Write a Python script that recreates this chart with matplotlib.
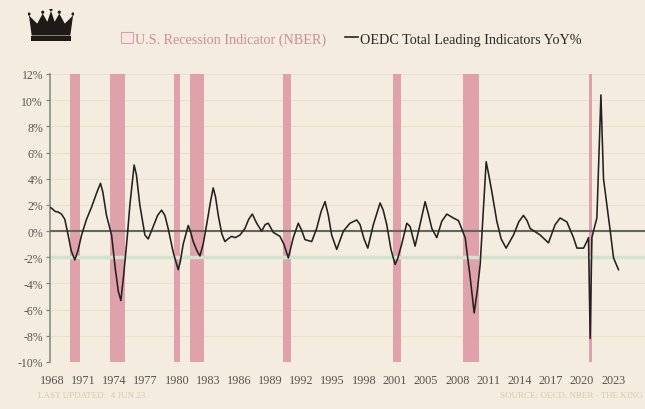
import matplotlib
matplotlib.use("Agg")
import matplotlib.pyplot as plt
from matplotlib.patches import Patch, Polygon, Circle
from matplotlib.lines import Line2D

# ---------------- data ----------------
years = [1968.0, 1968.15, 1968.5, 1968.8, 1969.11, 1969.43, 1969.75, 1970.05, 1970.4, 1970.7,
         1971.05, 1971.53, 1972.0, 1972.5, 1972.88, 1973.1, 1973.46, 1973.95, 1974.3, 1974.6,
         1974.85, 1975.1, 1975.46, 1975.72, 1976.13, 1976.35, 1976.68, 1977.17, 1977.49, 1977.9,
         1978.4, 1978.78, 1979.1, 1979.42, 1979.9, 1980.39, 1980.6, 1980.87, 1981.36, 1981.6,
         1981.84, 1982.2, 1982.49, 1982.8, 1983.14, 1983.5, 1983.77, 1984.0, 1984.26, 1984.6,
         1984.9, 1985.2, 1985.55, 1985.9, 1986.36, 1986.84, 1987.2, 1987.55, 1987.97, 1988.45,
         1988.8, 1989.09, 1989.58, 1990.22, 1990.6, 1991.03, 1991.51, 1991.99, 1992.3, 1992.64,
         1993.29, 1993.77, 1994.2, 1994.58, 1994.9, 1995.22, 1995.71, 1996.35, 1996.99, 1997.64,
         1997.96, 1998.35, 1998.71, 1999.25, 1999.9, 2000.2, 2000.54, 2000.95, 2001.35, 2001.6,
         2001.99, 2002.48, 2002.8, 2003.28, 2003.76, 2004.25, 2004.6, 2004.9, 2005.38, 2005.86,
         2006.35, 2006.98, 2007.47, 2007.63, 2008.12, 2008.6, 2008.99, 2009.3, 2009.57, 2009.9,
         2010.15, 2010.4, 2010.7, 2011.18, 2011.6, 2012.08, 2012.79, 2013.3, 2013.75, 2014.1,
         2014.4, 2015.37, 2016.17, 2016.82, 2017.3, 2017.95, 2018.59, 2018.92, 2019.56, 2019.88,
         2020.04, 2020.2, 2020.37, 2020.52, 2020.85, 2021.24, 2021.49, 2022.14, 2022.46, 2022.94]
cli_yoy = [1.8, 1.75, 1.5, 1.45, 1.3, 0.9, -0.3, -1.5, -2.2, -1.5,
           -0.3, 0.9, 1.8, 2.9, 3.65, 3.0, 1.2, -0.3, -2.8, -4.6,
           -5.3, -3.5, -0.5, 2.0, 5.05, 4.3, 2.0, -0.3, -0.6, 0.2,
           1.2, 1.6, 1.2, 0.2, -1.6, -2.95, -2.3, -1.0, 0.43, -0.1,
           -0.8, -1.5, -1.9, -1.0, 0.5, 2.2, 3.3, 2.6, 1.2, -0.2,
           -0.8, -0.6, -0.4, -0.5, -0.3, 0.2, 0.9, 1.3, 0.6, 0.0,
           0.5, 0.6, -0.1, -0.4, -1.0, -2.05, -0.5, 0.6, 0.1, -0.65,
           -0.8, 0.2, 1.5, 2.25, 1.2, -0.3, -1.4, 0.0, 0.6, 0.85,
           0.5, -0.6, -1.3, 0.5, 2.15, 1.6, 0.5, -1.4, -2.55, -2.1,
           -1.0, 0.6, 0.35, -1.15, 0.5, 2.25, 1.2, 0.2, -0.5, 0.75,
           1.3, 1.0, 0.8, 0.5, -0.5, -3.5, -6.25, -4.5, -2.55, 2.0,
           5.3, 4.3, 3.0, 0.75, -0.6, -1.3, -0.3, 0.7, 1.2, 0.8,
           0.2, -0.3, -0.9, 0.5, 1.0, 0.7, -0.5, -1.3, -1.3, -0.8,
           -0.5, -8.2, -0.5, 0.0, 1.0, 10.4, 4.0, 0.0, -2.05, -2.95]

rec_start = [1969.917, 1973.833, 1980.0, 1981.5, 1990.5, 2001.167, 2007.917, 2020.083]
rec_end = [1970.917, 1975.25, 1980.583, 1982.917, 1991.25, 2001.917, 2009.5, 2020.333]

x_tick_labels = ["1968", "1971", "1974", "1977", "1980", "1983", "1986", "1989", "1992",
                 "1995", "1998", "2001", "2005", "2008", "2011", "2014", "2017", "2020", "2023"]
y_ticks = [-10, -8, -6, -4, -2, 0, 2, 4, 6, 8, 10, 12]

BG = "#f4ecde"
REC = "#e0a2aa"
SERIF = ["Liberation Serif", "DejaVu Serif"]

fig = plt.figure(figsize=(6.45, 4.10), dpi=100, facecolor=BG)
ax = fig.add_axes([50 / 645, 1 - 363 / 410, 1 - 50 / 645, (363 - 75) / 410])
ax.set_facecolor(BG)

ax.set_xlim(1968.0, 2025.5)
ax.set_ylim(-10, 12)

for yv in y_ticks:
    ax.axhline(yv, color="#ebe0cc", lw=0.8, zorder=0)

for s, e in zip(rec_start, rec_end):
    ax.axvspan(s, e, color=REC, lw=0, zorder=1)

ax.axhline(-2, color="#cfe3cf", lw=2.5, zorder=2)
ax.axhline(0, color="#66665a", lw=1.5, zorder=3)
ax.plot(years, cli_yoy, color="#222222", lw=1.15, zorder=4)

for sp in ["top", "right", "bottom"]:
    ax.spines[sp].set_visible(False)
ax.spines["left"].set_color("#85857b")
ax.spines["left"].set_linewidth(1.1)

ax.set_yticks(y_ticks)
ax.set_yticklabels([f"{v}%" for v in y_ticks], fontfamily=SERIF, fontsize=8.5, color="#555550")
ax.tick_params(axis="y", length=3, width=0.9, color="#85857b", pad=2)

xt = [1968.2 + 3.012 * i for i in range(len(x_tick_labels))]
ax.set_xticks(xt)
ax.set_xticklabels(x_tick_labels, fontfamily=SERIF, fontsize=8.8, color="#555550")
ax.tick_params(axis="x", length=0, pad=9)

# legend
handles = [Patch(facecolor="#f6e8e0", edgecolor="#d7a3aa", lw=0.8),
           Line2D([0], [0], color="#262626", lw=1.2)]
leg = fig.legend(handles, ["U.S. Recession Indicator (NBER)", "OEDC Total Leading Indicators YoY%"],
                 loc="center", bbox_to_anchor=(351 / 645, 1 - 40 / 410), ncol=2, frameon=False,
                 prop={"family": SERIF, "size": 10.2}, handlelength=0.9, handleheight=0.8,
                 handletextpad=0.15, columnspacing=1.3)
leg.get_texts()[0].set_color("#c98f98")
leg.get_texts()[1].set_color("#2a2a2a")

# crown logo
lax = fig.add_axes([28 / 645, 1 - 42 / 410, 46 / 645, 32 / 410])
lax.axis("off")
lax.set_xlim(0, 10)
lax.set_ylim(0, 7)
crown = Polygon([(0.8, 1.2), (0.2, 5.6), (2.0, 3.8), (3.2, 6.0), (4.2, 4.2), (5.0, 6.6),
                 (5.8, 4.2), (6.8, 6.0), (8.0, 3.8), (9.8, 5.6), (9.2, 1.2)],
                closed=True, facecolor="#1e1a18", edgecolor="none")
lax.add_patch(crown)
lax.add_patch(Polygon([(0.6, 0.0), (9.4, 0.0), (9.4, 1.0), (0.6, 1.0)], closed=True,
                      facecolor="#1e1a18", edgecolor="none"))
for cx, cy in [(0.2, 5.9), (3.2, 6.3), (5.0, 6.9), (6.8, 6.3), (9.8, 5.9)]:
    lax.add_patch(Circle((cx, cy), 0.35, facecolor="#1e1a18", edgecolor="none"))

# footer
fig.text(38 / 645, 1 - 396 / 410, "LAST UPDATED:  4 JUN 23", fontfamily=SERIF, fontsize=6.5,
         color="#d8c9a8", va="center", ha="left")
fig.text(643 / 645, 1 - 396 / 410, "SOURCE: OECD, NBER · THE KING", fontfamily=SERIF, fontsize=6.5,
         color="#d8c9a8", va="center", ha="right")

fig.savefig("out.png", dpi=100, facecolor=BG)
